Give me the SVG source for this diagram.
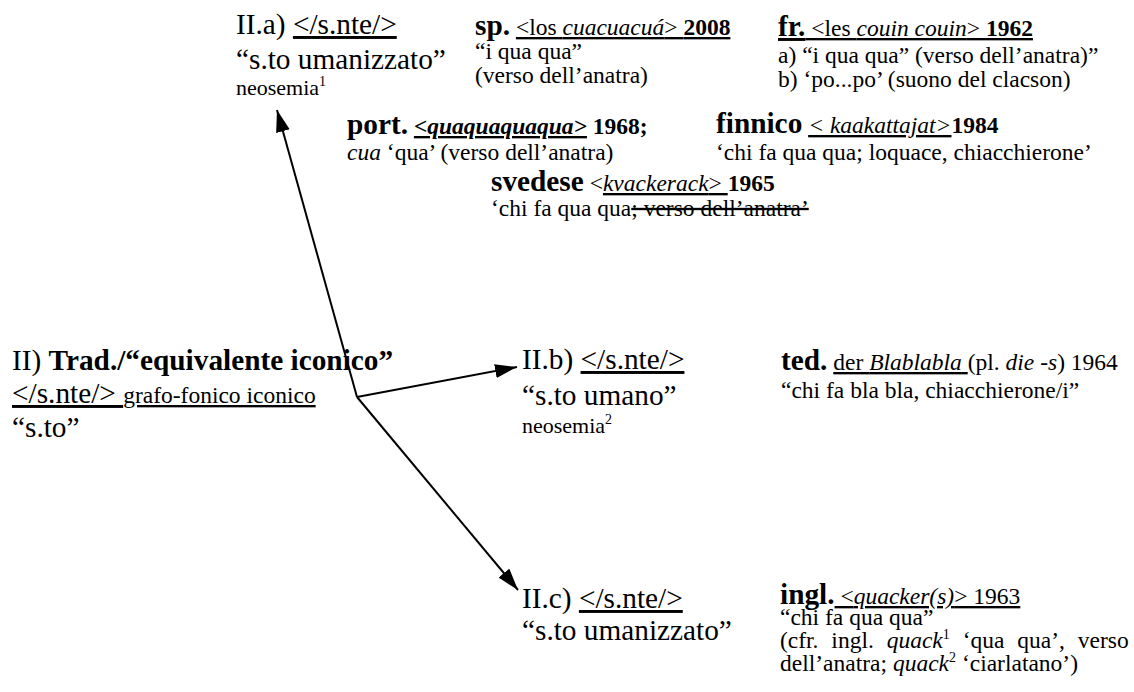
<svg xmlns="http://www.w3.org/2000/svg" width="1134" height="692" viewBox="0 0 1134 692">
<style>
text { font-family: "Liberation Serif", "Times New Roman", serif; fill: #000; }
.h { font-size: 29.3px; }
.t { font-size: 23.5px; }
.n { font-size: 22px; }
.bd { font-weight: bold; }
.it { font-style: italic; }
.u { text-decoration: underline; }
.s { text-decoration: line-through; }
.sup { font-size: 14px; }
.conn { stroke: #000; stroke-width: 2; fill: none; }
</style>
<defs>
<marker id="arr" markerUnits="userSpaceOnUse" markerWidth="24" markerHeight="16" refX="22" refY="7" orient="auto">
<path d="M0,0 L22,7 L0,14 z" fill="#000"/>
</marker>
</defs>
<rect width="1134" height="692" fill="#fff"/>
<g id="connectors">
<line class="conn" x1="357" y1="397" x2="277" y2="110" marker-end="url(#arr)"/>
<line class="conn" x1="357" y1="397" x2="517" y2="367" marker-end="url(#arr)"/>
<line class="conn" x1="357" y1="397" x2="518" y2="590" marker-end="url(#arr)"/>
</g>
<g id="node-IIa">
<text class="h" x="236" y="34">II.a) <tspan class="u">&lt;/s.nte/&gt;</tspan></text>
<text class="h" x="236" y="69">“s.to umanizzato”</text>
<text class="n" x="236" y="95">neosemia<tspan class="sup" dy="-9">1</tspan></text>
</g>
<g id="node-sp">
<text class="t" x="475" y="35"><tspan class="h bd">sp.</tspan> <tspan class="u">&lt;los <tspan class="it">cuacuacuá</tspan>&gt; <tspan class="bd">2008</tspan></tspan></text>
<text class="t" x="475" y="59">“i qua qua”</text>
<text class="t" x="475" y="83">(verso dell’anatra)</text>
</g>
<g id="node-fr">
<text class="t u" x="778" y="36"><tspan class="h bd">fr.</tspan> &lt;les <tspan class="it">couin couin</tspan>&gt; <tspan class="bd">1962</tspan></text>
<text class="t" x="778" y="63">a) “i qua qua” (verso dell’anatra)”</text>
<text class="t" x="778" y="87">b) ‘po...po’ (suono del clacson)</text>
</g>
<g id="node-port">
<text class="t" x="347" y="134"><tspan class="h bd">port.</tspan> <tspan class="u it bd">&lt;quaquaquaqua&gt;</tspan><tspan class="bd"> 1968;</tspan></text>
<text class="t" x="347" y="160"><tspan class="it">cua</tspan> ‘qua’ (verso dell’anatra)</text>
</g>
<g id="node-finnico">
<text class="t" x="716" y="133"><tspan class="h bd">finnico</tspan> <tspan class="u it">&lt; kaakattajat&gt;</tspan><tspan class="bd">1984</tspan></text>
<text class="t" x="716" y="160">‘chi fa qua qua; loquace, chiacchierone’</text>
</g>
<g id="node-svedese">
<text class="t" x="491" y="191"><tspan class="h bd">svedese</tspan> &lt;<tspan class="u"><tspan class="it">kvackerack</tspan>&gt; </tspan><tspan class="bd">1965</tspan></text>
<text class="t" x="491" y="216">‘chi fa qua qua<tspan class="s">; verso dell’anatra’</tspan></text>
</g>
<g id="node-II">
<text class="h" x="12" y="370">II) <tspan class="bd">Trad./“equivalente iconico”</tspan></text>
<text class="h u" x="12" y="403">&lt;/s.nte/&gt; <tspan class="t">grafo-fonico iconico</tspan></text>
<text class="h" x="12" y="437">“s.to”</text>
</g>
<g id="node-IIb">
<text class="h" x="522" y="369">II.b) <tspan class="u">&lt;/s.nte/&gt;</tspan></text>
<text class="h" x="522" y="405">“s.to umano”</text>
<text class="n" x="522" y="433">neosemia<tspan class="sup" dy="-9">2</tspan></text>
</g>
<g id="node-ted">
<text class="t" x="781" y="370"><tspan class="h bd">ted.</tspan> <tspan class="u">der <tspan class="it">Blablabla</tspan> </tspan>(pl. <tspan class="it">die -s</tspan>) 1964</text>
<text class="t" x="781" y="398">“chi fa bla bla, chiacchierone/i”</text>
</g>
<g id="node-IIc">
<text class="h" x="522" y="608">II.c) <tspan class="u">&lt;/s.nte/&gt;</tspan></text>
<text class="h" x="522" y="640">“s.to umanizzato”</text>
</g>
<g id="node-ingl">
<text class="t" x="780" y="604"><tspan class="h bd">ingl.</tspan><tspan class="u"> &lt;<tspan class="it">quacker(s)</tspan>&gt; 1963</tspan></text>
<text class="t" x="780" y="625">“chi fa qua qua”</text>
<text class="t" x="780" y="648" word-spacing="7">(cfr. ingl. <tspan class="it">quack</tspan><tspan class="sup" dy="-9">1</tspan><tspan dy="9"> ‘qua qua’, verso</tspan></text>
<text class="t" x="780" y="671">dell’anatra; <tspan class="it">quack</tspan><tspan class="sup" dy="-9">2</tspan><tspan dy="9"> ‘ciarlatano’)</tspan></text>
</g>
</svg>
